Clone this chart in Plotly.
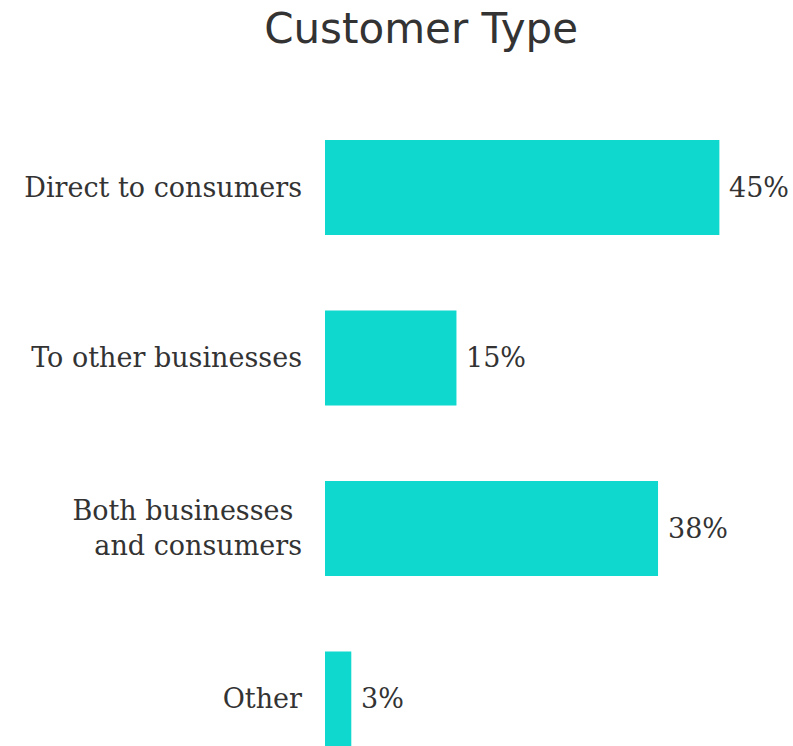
import plotly.graph_objects as go

# Survey results: share of respondents by customer type
categories = ["Direct to consumers", "To other businesses",
              "Both businesses\u00a0<br>and consumers", "Other"]
shares = [45, 15, 38, 3]
value_labels = ["45%", "15%", "38%", "3%"]

bar_color = "#0fd8cf"
text_color = "#333333"
serif = "DejaVu Serif, Georgia, serif"

fig = go.Figure(
    go.Bar(
        x=shares,
        y=categories,
        orientation="h",
        marker=dict(color=bar_color, line=dict(width=0)),
        width=0.557,
        hoverinfo="skip",
    )
)

# Percentage labels just past the end of each bar
for cat, val, lab in zip(categories, shares, value_labels):
    fig.add_annotation(
        x=val, y=cat, text=lab, xref="x", yref="y",
        xanchor="left", yanchor="middle", xshift=8, showarrow=False,
        font=dict(family=serif, size=27, color=text_color),
    )

fig.update_layout(
    width=793,
    height=746,
    paper_bgcolor="white",
    plot_bgcolor="white",
    margin=dict(l=325, r=0, t=100, b=0),
    title=dict(
        text="Customer Type",
        x=0.531,
        xanchor="center",
        y=0.982,
        yanchor="top",
        yref="container",
        font=dict(family="DejaVu Sans, Tahoma, sans-serif", size=42, color=text_color),
    ),
    showlegend=False,
    xaxis=dict(range=[0, 53.4], visible=False, fixedrange=True),
    yaxis=dict(
        range=[3.2757, -0.513],
        showgrid=False,
        zeroline=False,
        showline=False,
        ticks="",
        ticklabelstandoff=22,
        tickfont=dict(family=serif, size=27, color=text_color),
        fixedrange=True,
    ),
)

fig.write_html("out.html")
